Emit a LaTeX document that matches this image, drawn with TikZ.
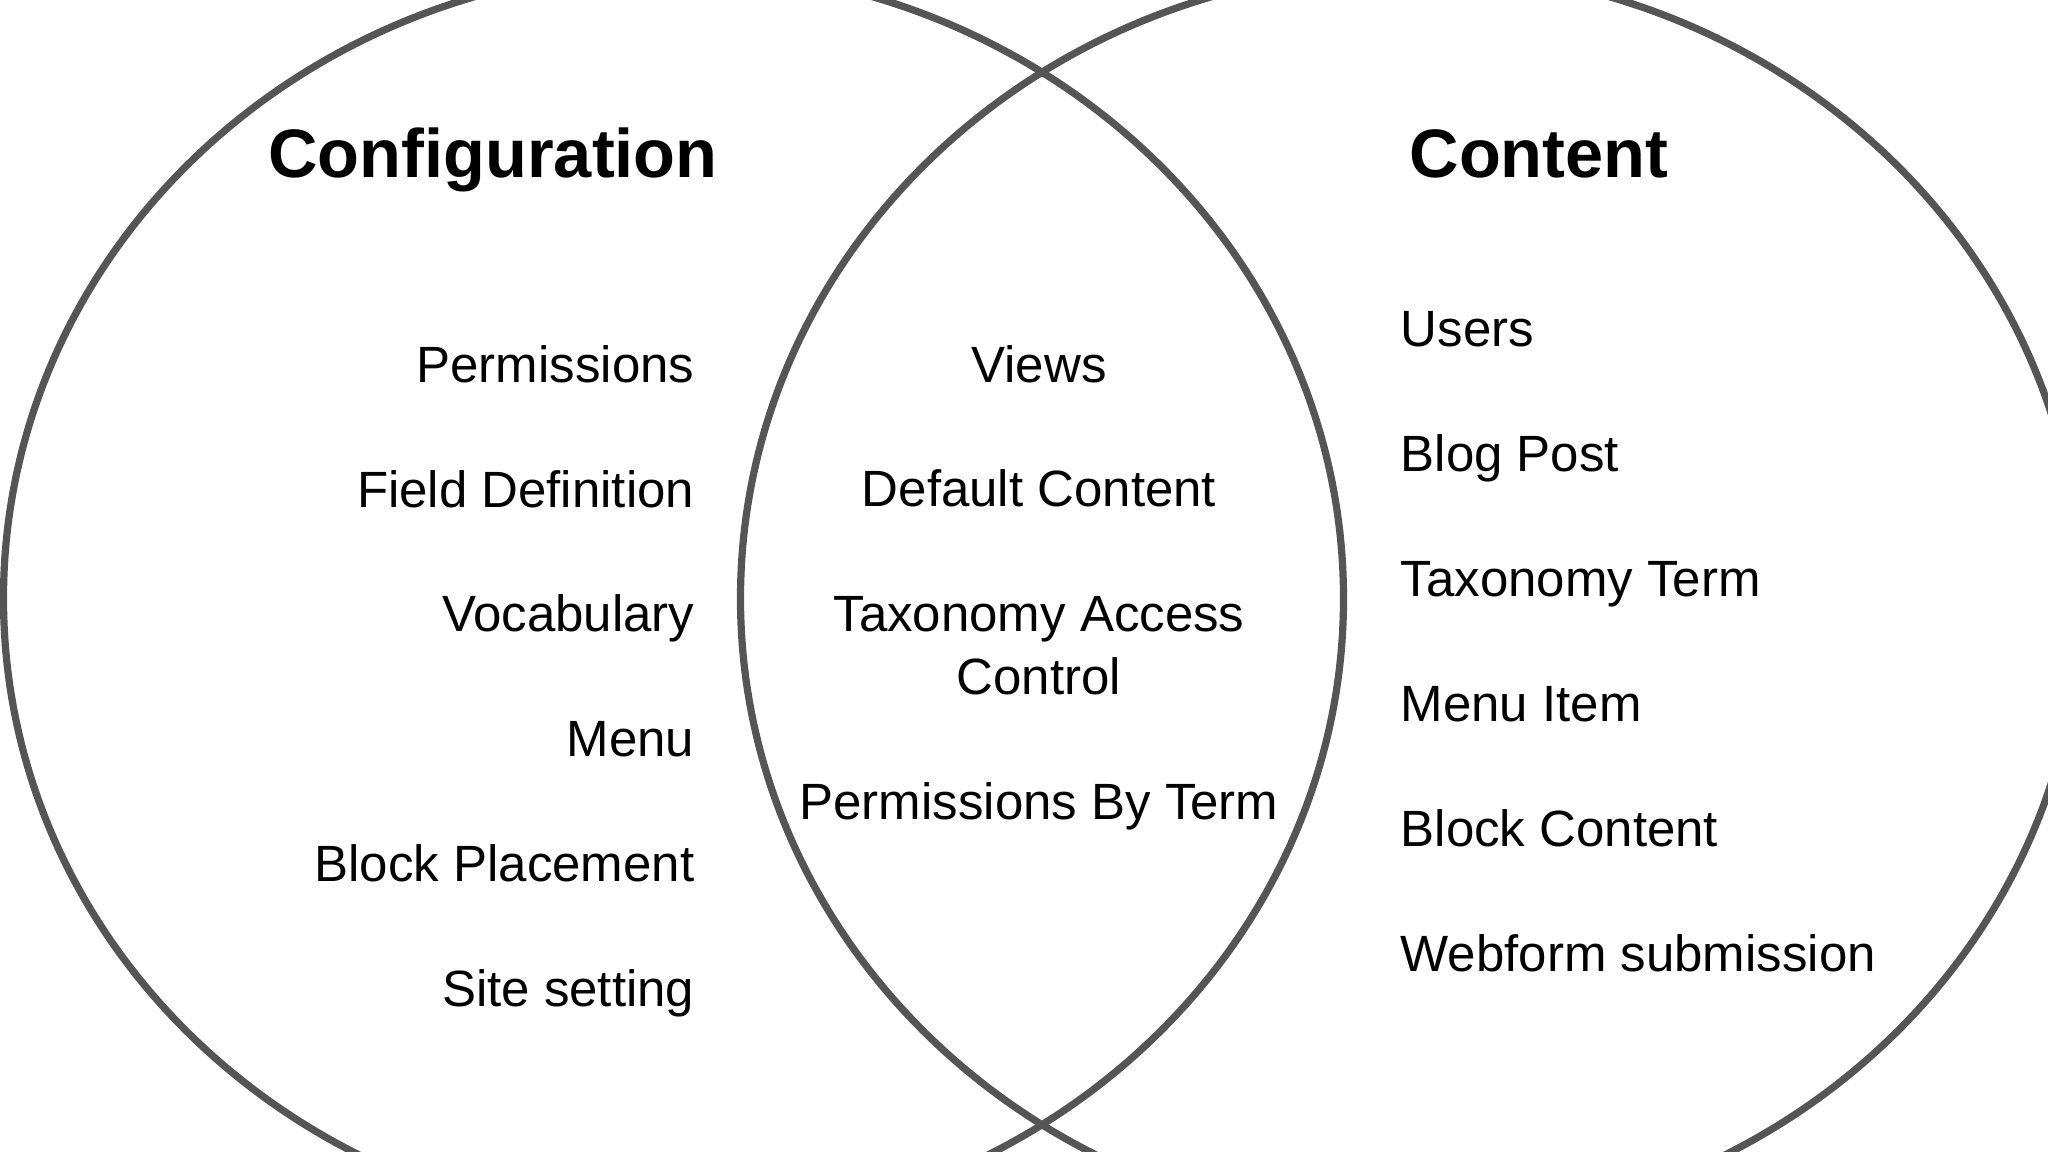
\documentclass[tikz,border=0pt]{standalone}
\usepackage{fontspec}
\setmainfont{Liberation Sans}
\begin{document}
\begin{tikzpicture}[x=0.01cm,y=0.01cm,
  ring/.style={draw=ringgray,line width=2.05pt},
  item/.style={font=\fontsize{14.5}{17}\selectfont,inner sep=0pt},
  head/.style={font=\fontsize{19.5}{23}\selectfont\bfseries,inner sep=0pt}]
\definecolor{ringgray}{HTML}{555555}
\useasboundingbox (0,0) rectangle (2048,1152);
\fill[white] (0,0) rectangle (2048,1152);
\begin{scope}
\clip (0,0) rectangle (2048,1152);
\draw[ring] (673.5,553.5) ellipse [x radius=670, y radius=630];
\draw[ring] (1410.5,553.5) ellipse [x radius=670, y radius=630];
\end{scope}
% headings
\node[head,anchor=base] (hconf) at (493,974) {Configuration};
\node[head,anchor=base] (hcont) at (1539,974) {Content};
% left column
\node[item,anchor=base east] (l1) at (695,769) {Permissions};
\node[item,anchor=base east] (l2) at (695,644.5) {Field Definition};
\node[item,anchor=base east] (l3) at (695,520) {Vocabulary};
\node[item,anchor=base east] (l4) at (695,395) {Menu};
\node[item,anchor=base east] (l5) at (695,270) {Block Placement};
\node[item,anchor=base east] (l6) at (695,145) {Site setting};
% middle column
\node[item,anchor=base] (m1) at (1039,769) {Views};
\node[item,anchor=base] (m2) at (1039,645) {Default Content};
\node[item,anchor=base] (m3) at (1039,520) {Taxonomy Access};
\node[item,anchor=base] (m3b) at (1039,457) {Control};
\node[item,anchor=base] (m4) at (1039,332) {Permissions By Term};
% right column
\node[item,anchor=base west] (r1) at (1400,805) {Users};
\node[item,anchor=base west] (r2) at (1400,680) {Blog Post};
\node[item,anchor=base west] (r3) at (1400,555) {Taxonomy Term};
\node[item,anchor=base west] (r4) at (1400,430) {Menu Item};
\node[item,anchor=base west] (r5) at (1400,305) {Block Content};
\node[item,anchor=base west] (r6) at (1400,180) {Webform submission};
\end{tikzpicture}
\end{document}
